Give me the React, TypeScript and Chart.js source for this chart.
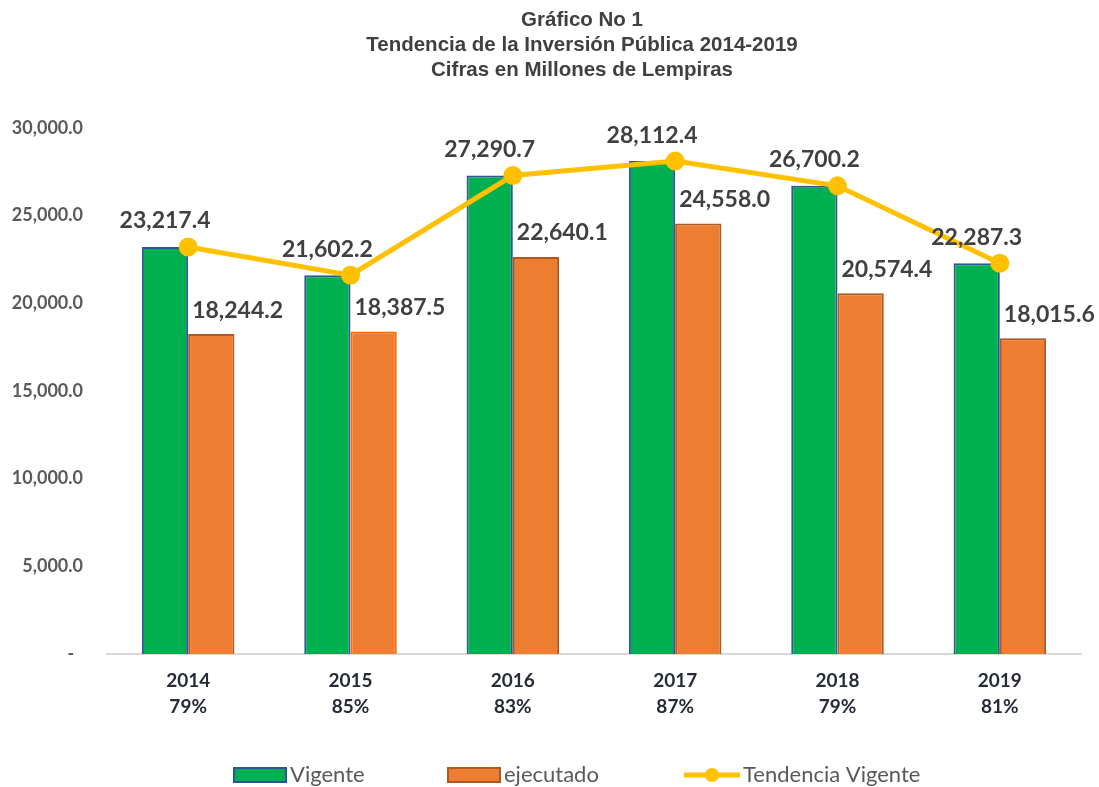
import React, { useEffect, useRef } from 'react';
import { Chart, registerables } from 'chart.js';

Chart.register(...registerables);

const years = ['2014', '2015', '2016', '2017', '2018', '2019'];
const percentages = ['79%', '85%', '83%', '87%', '79%', '81%'];
const vigente = [23217.4, 21602.2, 27290.7, 28112.4, 26700.2, 22287.3];
const ejecutado = [18244.2, 18387.5, 22640.1, 24558.0, 20574.4, 18015.6];
const tendenciaVigente = [23217.4, 21602.2, 27290.7, 28112.4, 26700.2, 22287.3];
const titleLines = [
  'Gráfico No 1',
  'Tendencia de la Inversión Pública 2014-2019',
  'Cifras en Millones de Lempiras',
];
const seriesNames = ['Vigente', 'ejecutado', 'Tendencia Vigente'];
const yMin = 0;
const yMax = 30000;
const yStep = 5000;

const GREEN = '#00B050';
const GREEN_BORDER = '#2F5597';
const ORANGE = '#ED7D31';
const ORANGE_BORDERS = ['#B0581F', '#FF6A00', '#B0581F', '#B0581F', '#B0581F', '#B0581F'];
const YELLOW = '#FFC000';

const fmt = (v: number) =>
  v.toLocaleString('en-US', { minimumFractionDigits: 1, maximumFractionDigits: 1 });

const titlePlugin = {
  id: 'customTitle',
  afterDraw(chart: any) {
    const ctx = chart.ctx;
    ctx.save();
    ctx.font = 'bold 20.5px "Liberation Sans", Arial, sans-serif';
    ctx.fillStyle = '#404040';
    ctx.textAlign = 'center';
    ctx.textBaseline = 'middle';
    titleLines.forEach((line, i) => {
      ctx.fillText(line, 582, 20 + i * 25);
    });
    ctx.restore();
  },
};

const dataLabelPlugin = {
  id: 'dataLabels',
  afterDatasetsDraw(chart: any) {
    const ctx = chart.ctx;
    ctx.save();
    ctx.font = 'bold 23px Lato';
    ctx.fillStyle = '#404040';
    ctx.textBaseline = 'middle';
    const m0 = chart.getDatasetMeta(0);
    m0.data.forEach((bar: any, i: number) => {
      ctx.textAlign = 'center';
      ctx.fillText(fmt(vigente[i]), bar.x, bar.y - 26);
    });
    const m1 = chart.getDatasetMeta(1);
    m1.data.forEach((bar: any, i: number) => {
      ctx.textAlign = 'left';
      const left = bar.x - bar.width / 2;
      ctx.fillText(fmt(ejecutado[i]), left + 4, bar.y - 24);
    });
    ctx.restore();
  },
};

const legendPlugin = {
  id: 'customLegend',
  afterDraw(chart: any) {
    const ctx = chart.ctx;
    const cy = 775;
    ctx.save();
    ctx.font = '22px Lato';
    ctx.textBaseline = 'middle';
    ctx.textAlign = 'left';
    // Vigente
    ctx.fillStyle = GREEN;
    ctx.fillRect(234, cy - 7, 52, 14);
    ctx.strokeStyle = GREEN_BORDER;
    ctx.lineWidth = 2;
    ctx.strokeRect(234, cy - 7, 52, 14);
    ctx.fillStyle = '#595959';
    ctx.fillText(seriesNames[0], 290, cy);
    // ejecutado
    ctx.fillStyle = ORANGE;
    ctx.fillRect(448, cy - 7, 52, 14);
    ctx.strokeStyle = '#B0581F';
    ctx.strokeRect(448, cy - 7, 52, 14);
    ctx.fillStyle = '#595959';
    ctx.fillText(seriesNames[1], 504, cy);
    // Tendencia
    ctx.strokeStyle = YELLOW;
    ctx.lineWidth = 5;
    ctx.beginPath();
    ctx.moveTo(684, cy);
    ctx.lineTo(740, cy);
    ctx.stroke();
    ctx.fillStyle = YELLOW;
    ctx.beginPath();
    ctx.arc(712, cy, 7, 0, Math.PI * 2);
    ctx.fill();
    ctx.fillStyle = '#595959';
    ctx.fillText(seriesNames[2], 743, cy);
    ctx.restore();
  },
};

export default function App() {
  const ref = useRef<HTMLCanvasElement | null>(null);
  useEffect(() => {
    document.body.style.margin = '0';
    if (!ref.current) return;
    const chart = new Chart(ref.current, {
      type: 'bar',
      data: {
        labels: years.map((y, i) => [y, percentages[i]]),
        datasets: [
          {
            type: 'bar',
            label: seriesNames[0],
            data: vigente,
            backgroundColor: GREEN,
            borderColor: GREEN_BORDER,
            borderWidth: 2,
            categoryPercentage: 0.57,
            barPercentage: 1.0,
            order: 1,
          },
          {
            type: 'bar',
            label: seriesNames[1],
            data: ejecutado,
            backgroundColor: ORANGE,
            borderColor: ORANGE_BORDERS,
            borderWidth: 2,
            categoryPercentage: 0.57,
            barPercentage: 1.0,
            order: 1,
          },
          {
            type: 'line',
            label: seriesNames[2],
            data: tendenciaVigente,
            borderColor: YELLOW,
            backgroundColor: YELLOW,
            borderWidth: 5,
            pointRadius: 7,
            pointBackgroundColor: YELLOW,
            pointBorderColor: YELLOW,
            tension: 0,
            order: 0,
          } as any,
        ],
      },
      options: {
        animation: false,
        responsive: false,
        maintainAspectRatio: false,
        layout: { padding: { left: 0, right: 18, top: 128, bottom: 0 } },
        plugins: {
          legend: { display: false },
          tooltip: { enabled: false },
          title: { display: false },
        },
        scales: {
          x: {
            grid: { display: false, drawTicks: false },
            border: { display: true, color: '#D9D9D9', width: 2 },
            ticks: {
              color: '#262B35',
              padding: 14,
              font: { family: 'Lato', size: 19, weight: 'bold', lineHeight: 1.35 },
            },
            afterFit(scale: any) {
              scale.height = 133;
            },
          },
          y: {
            min: yMin,
            max: yMax,
            grid: { display: false, drawTicks: false },
            border: { display: false },
            ticks: {
              stepSize: yStep,
              padding: 24,
              color: '#595959',
              font: { family: 'Lato', size: 18, weight: 'bold' },
              callback: (v: any) => (Number(v) === 0 ? '-  ' : fmt(Number(v))),
            },
            afterFit(scale: any) {
              scale.width = 107;
            },
          },
        },
      },
      plugins: [dataLabelPlugin, legendPlugin, titlePlugin],
    } as any);
    return () => chart.destroy();
  }, []);
  return (
    <div style={{ position: 'absolute', left: 0, top: 0, width: 1099, height: 787 }}>
      <canvas ref={ref} width={1099} height={787} style={{ width: 1099, height: 787 }} />
    </div>
  );
}
